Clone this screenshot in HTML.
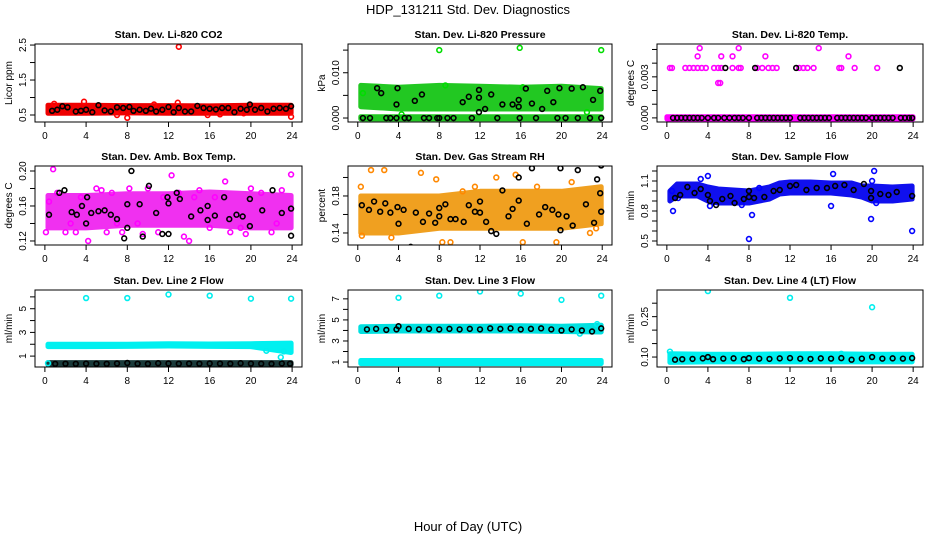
<!DOCTYPE html>
<html><head><meta charset="utf-8"><style>
body{margin:0;background:#fff}
svg{display:block;font-family:"Liberation Sans",sans-serif}
</style></head><body>
<svg id="c" width="936" height="540" xmlns="http://www.w3.org/2000/svg">
<text x="468" y="14" text-anchor="middle" font-size="13">HDP_131211  Std. Dev. Diagnostics</text>
<text x="468" y="531" text-anchor="middle" font-size="13">Hour of Day (UTC)</text>
</svg>
<script>
const BH=[0.3,4,8,12,16,20,23.9];
const XTICKS=[0,4,8,12,16,20,24];
// P1 CO2
const p1Lo=[0.55,0.55,0.56,0.55,0.55,0.55,0.55], p1Hi=[0.78,0.78,0.77,0.77,0.76,0.78,0.78];
const p1cH=[13,8,23.9,3.8,0.9,12.9,15.8,17,7,10.6,19.3], p1cV=[2.45,0.42,0.45,0.88,0.82,0.85,0.5,0.52,0.5,0.8,0.55];
const p1kH=[0.7,1.2,1.7,2.2,3,3.5,4,4.6,5.2,5.8,6.4,7,7.6,8.2,8.6,9.2,9.8,10.3,10.8,11.4,12,12.5,13,13.6,14.2,14.8,15.4,16,16.6,17.2,17.8,18.4,19,19.6,19.9,20.4,21,21.6,22.2,22.8,23.4,23.9];
const p1kV=[0.62,0.65,0.75,0.72,0.6,0.62,0.65,0.58,0.78,0.63,0.6,0.72,0.7,0.73,0.62,0.65,0.62,0.68,0.6,0.65,0.73,0.58,0.7,0.6,0.6,0.76,0.7,0.68,0.66,0.7,0.7,0.58,0.68,0.65,0.8,0.65,0.7,0.6,0.68,0.7,0.68,0.75];
// P2 Pressure
const p2Lo=[0.0025,0.002,0.002,0.002,0.002,0.002,0.002], p2Hi=[0.0072,0.0068,0.0072,0.0070,0.0068,0.0070,0.0065];
const p2zLo=[-0.0002,-0.0002,-0.0002,-0.0002,-0.0002,-0.0002,-0.0002], p2zHi=[0.0003,0.0003,0.0003,0.0003,0.0003,0.0003,0.0003];
const p2cH=[8,15.9,23.9,8.6,0.5,16.2,22.5,4.3], p2cV=[0.0150,0.0155,0.0150,0.0072,0.0055,0.0068,0.0013,0.0008];
const p2kH=[0.5,1.2,2.8,3.2,3.8,4.6,5,6.5,7,7.8,8,8.8,9.4,11.2,13.7,15.9,17.5,19.6,20.4,21.6,22.8,23.9,1.9,2.3,3.9,3.8,5.6,6.3,10.3,10.9,11.9,11.9,11.9,12.5,13.1,14.2,15.2,15.8,15.8,16.5,17.1,18.1,18.6,19.2,19.8,21,22.1,23.1,23.8];
const p2kV=[0,0,0,0,0,0,0,0,0,0,0,0,0,0,0,0,0,0,0,0,0,0,0.0066,0.0055,0.0066,0.003,0.0038,0.0052,0.0035,0.0047,0.0062,0.0045,0.0013,0.002,0.0052,0.003,0.003,0.0025,0.004,0.0065,0.0032,0.002,0.006,0.0035,0.0066,0.0065,0.0068,0.004,0.006];
// P3 Li-820 Temp
const p3zLo=[-0.00008,-0.00008,-0.00008,-0.00008,-0.00008,-0.00008,-0.00008], p3zHi=[0.00008,0.00008,0.00008,0.00008,0.00008,0.00008,0.00008];
const p3cH=[0.3,0.5,1.8,2.2,2.6,3,3.4,3.8,4.6,5,5.3,6.4,7,7.2,8.8,9.3,9.9,10.3,10.7,12.9,13.3,13.7,14.3,16.8,17,18.3,20.5,3,3.2,5.3,6.4,7,9.6,14.8,17.7,5,5.2];
const p3cV=[0.00365,0.00365,0.00365,0.00365,0.00365,0.00365,0.00365,0.00365,0.00365,0.00365,0.00365,0.00365,0.00365,0.00365,0.00365,0.00365,0.00365,0.00365,0.00365,0.00365,0.00365,0.00365,0.00365,0.00365,0.00365,0.00365,0.00365,0.0045,0.0051,0.0045,0.0045,0.0051,0.0045,0.0051,0.0045,0.00255,0.00255];
const p3kH=[5.7,8.6,12.6,22.7,0.6,1,1.4,1.8,2.2,2.6,3,3.4,4,4.6,5,5.6,6.1,6.6,7,7.4,8,8.8,9.2,9.6,10,10.4,10.8,11.2,11.6,12,13,13.4,13.8,14.2,14.6,15,15.4,15.8,16.6,17,17.4,17.8,18.2,18.6,19,19.4,20,20.4,20.8,21.2,21.6,22,22.8,23.2,23.6,23.9];
const p3kV=[0.00365,0.00365,0.00365,0.00365,0,0,0,0,0,0,0,0,0,0,0,0,0,0,0,0,0,0,0,0,0,0,0,0,0,0,0,0,0,0,0,0,0,0,0,0,0,0,0,0,0,0,0,0,0,0,0,0,0,0,0,0];
// P4 Amb Box Temp
const p4Lo=[0.135,0.135,0.138,0.138,0.138,0.135,0.135], p4Hi=[0.172,0.172,0.174,0.174,0.176,0.174,0.172];
const p4cH=[0.1,0.8,1.2,2,3,3.5,4.2,5,6,6.5,7.5,8.2,9,10,11,12.3,13,14,14.5,15,16.5,17.5,18,19,20,21,22,23,23.9,0.4,2.5,5.5,7,9.5,11.5,13.5,16,19.5,22.5];
const p4cV=[0.13,0.202,0.175,0.13,0.13,0.17,0.12,0.18,0.13,0.175,0.13,0.18,0.14,0.18,0.13,0.195,0.175,0.12,0.17,0.178,0.17,0.188,0.13,0.135,0.18,0.175,0.13,0.178,0.196,0.165,0.14,0.178,0.14,0.128,0.17,0.125,0.135,0.128,0.14];
const p4kH=[0.4,1.4,1.9,2.6,3.1,3.6,4,4.1,4.5,5.2,5.8,6.4,7,7.7,8,8,8.4,9.2,9.5,10.1,10.8,11.4,11.9,12,12,12.8,13.1,14.2,15.1,15.8,15.8,16.5,17.4,17.9,18.6,19.2,19.9,19.9,21.1,22.1,23,23.9,23.9];
const p4kV=[0.15,0.175,0.178,0.153,0.15,0.16,0.14,0.17,0.152,0.154,0.155,0.15,0.145,0.123,0.162,0.135,0.2,0.162,0.125,0.183,0.152,0.128,0.17,0.163,0.128,0.175,0.168,0.148,0.155,0.16,0.144,0.149,0.17,0.145,0.15,0.148,0.168,0.137,0.155,0.178,0.152,0.157,0.126];
// P5 Gas Stream RH
const p5Lo=[0.14,0.14,0.145,0.145,0.145,0.145,0.15], p5Hi=[0.18,0.18,0.18,0.185,0.185,0.185,0.19];
const p5cH=[0.3,1.3,2.6,6.2,7.7,10.3,13.6,15.5,16.2,17.6,5.4,8.3,9.1,19.5,22.8,0.4,23.4,3.3,11.5,21];
const p5cV=[0.19,0.208,0.208,0.205,0.198,0.185,0.2,0.203,0.13,0.19,0.122,0.13,0.13,0.13,0.14,0.137,0.145,0.135,0.19,0.195];
const p5kH=[0.4,1.1,1.6,2.2,2.7,3.2,3.9,4,4.5,5.2,5.7,6.4,7,7.6,8,8,8.6,9.1,9.6,10.4,10.9,11.5,12,12,12.6,13.1,13.6,14.2,14.8,15.2,15.8,15.8,16.6,17.1,17.8,18.4,19.1,19.7,19.9,19.9,20.5,21.1,21.6,22.4,23.2,23.5,23.8,23.9,23.9];
const p5kV=[0.17,0.165,0.174,0.163,0.172,0.162,0.168,0.15,0.165,0.125,0.162,0.152,0.161,0.151,0.167,0.158,0.171,0.155,0.155,0.152,0.17,0.163,0.174,0.162,0.152,0.142,0.139,0.186,0.158,0.166,0.2,0.175,0.15,0.21,0.16,0.168,0.165,0.16,0.21,0.143,0.158,0.148,0.208,0.171,0.151,0.198,0.183,0.213,0.163];
// P6 Sample Flow
const p6H=[0.3,1,3,4,5,8,10,11,12,14,16,18,19,20,22,23.9];
const p6Lo=[0.9,0.95,0.95,0.9,0.88,0.88,0.92,0.97,0.98,0.98,0.98,0.96,0.94,0.9,0.9,0.92];
const p6Hi=[1.0,1.07,1.07,1.04,1.02,1.0,1.04,1.08,1.09,1.09,1.08,1.08,1.05,1.05,1.04,1.05];
const p6cH=[0.6,0.5,4,4.2,8,8.3,16,16.2,19.9,20,20.2,20.4,23.9,1.1,9,3.3,7.3];
const p6cV=[0.8,1.0,1.15,0.85,0.52,0.76,0.85,1.17,0.72,1.1,1.2,0.88,0.6,0.93,1.03,1.12,0.86];
const p6kH=[0.8,1.3,2,2.7,3.3,4,4.2,4.8,5.4,6.2,6.6,7.5,8,8,8.5,9.5,10.4,11,12,12.6,13.6,14.6,15.6,16.4,17.3,18.2,19.2,19.9,19.9,20.8,21.6,22.4,23.9];
const p6kV=[0.93,0.96,1.04,0.98,1.02,0.96,0.9,0.86,0.92,0.95,0.88,0.92,0.94,1.0,0.93,0.94,1.0,1.01,1.05,1.06,1.01,1.03,1.03,1.05,1.06,1.01,1.07,1.0,0.93,0.97,0.96,0.99,0.95];
// P7 Line 2 Flow
const p7Lo=[1.8,1.8,1.82,1.85,1.82,1.8,1.3], p7Hi=[2.0,2.0,2.0,2.05,2.02,2.05,2.1];
const p7bLo=[0.28,0.28,0.28,0.28,0.28,0.28,0.28], p7bHi=[0.45,0.45,0.45,0.45,0.45,0.45,0.45];
const p7cH=[4,8,12,16,20,23.9,22.9,23.2,21.5,0.3], p7cV=[5.9,5.9,6.2,6.1,5.85,5.85,0.9,1.4,1.45,0.4];
const p7kH=[1,2,3,4,5,6,7,8,9,10,11,12,13,14,15,16,17,18,19,20,21,22,23,23.8], p7kV=[0.35,0.36,0.35,0.37,0.36,0.35,0.38,0.42,0.36,0.35,0.4,0.38,0.36,0.37,0.36,0.38,0.37,0.36,0.4,0.37,0.36,0.35,0.38,0.36];
// P8 Line 3 Flow
const p8Lo=[0.85,0.85,0.85,0.85,0.85,0.85,0.85], p8Hi=[1.15,1.15,1.15,1.15,1.15,1.15,1.15];
const p8bLo=[3.9,3.95,3.95,3.95,3.95,3.9,3.85], p8bHi=[4.35,4.4,4.4,4.4,4.45,4.4,4.5];
const p8cH=[4,8,12,16,20,23.9,21.8,23.5], p8cV=[7.1,7.3,7.7,7.5,6.9,7.3,3.7,4.6];
const p8kH=[0.9,1.8,2.8,3.8,4,5,6,7,8,9,10,11,12,13,14,15,16,17,18,19,20,21,22,23,23.9], p8kV=[4.1,4.15,4.05,4.1,4.4,4.15,4.1,4.15,4.1,4.15,4.1,4.15,4.1,4.2,4.15,4.2,4.1,4.15,4.2,4.1,4.0,4.1,4.0,3.9,4.2];
// P9 Line 4 Flow
const p9Lo=[0.08,0.082,0.082,0.082,0.082,0.082,0.082], p9Hi=[0.112,0.11,0.11,0.112,0.112,0.11,0.11];
const p9cH=[4,12,20,0.3,3.9,17], p9cV=[0.345,0.32,0.285,0.12,0.105,0.112];
const p9kH=[0.8,1.5,2.5,3.5,4,4.5,5.5,6.5,7.5,8,9,10,11,12,13,14,15,16,17,18,19,20,21,22,23,23.9], p9kV=[0.09,0.092,0.093,0.095,0.1,0.092,0.094,0.095,0.092,0.096,0.094,0.093,0.095,0.096,0.094,0.093,0.095,0.094,0.096,0.09,0.094,0.1,0.094,0.095,0.094,0.096];

const NS='http://www.w3.org/2000/svg';
const svg=document.getElementById('c');
function mk(tag,attrs,parent){const e=document.createElementNS(NS,tag);for(const k in attrs)e.setAttribute(k,attrs[k]);(parent||svg).appendChild(e);return e;}
const COLX=[[35,302],[348,612],[657,923]];
const ROWY=[[44,122],[166,245],[290,367]];

function panel(col,row,name,title,ylab,yb,yt,yticks,ylabels,color,bands,cH,cV,kH,kV){
  const [x0,x1]=COLX[col],[y0,y1]=ROWY[row];
  const g=mk('g',{});
  
  
  const pad=(x1-x0)/(24*1.08)*0.96;
  const sx=h=>x0+pad+h*(x1-x0-2*pad)/24;
  const sy=v=>y1-(v-yb)*(y1-y0)/(yt-yb);
  const cp='clip'+name;
  const cl=mk('clipPath',{id:cp},g);mk('rect',{x:x0,y:y0,width:x1-x0,height:y1-y0},cl);
  const pg=mk('g',{'clip-path':'url(#'+cp+')'},g);
  bands.forEach(b=>{
    let d='';
    b.h.forEach((h,i)=>{d+=(i?'L':'M')+sx(h).toFixed(1)+','+sy(b.hi[i]).toFixed(1);});
    for(let i=b.h.length-1;i>=0;i--)d+='L'+sx(b.h[i]).toFixed(1)+','+sy(b.lo[i]).toFixed(1);
    const p=mk('path',{d:d+'Z',fill:b.c,stroke:b.c,'stroke-width':5,'stroke-linejoin':'round'},pg);
    
    
  });
  cH.forEach((h,i)=>{const c=mk('circle',{cx:sx(h),cy:sy(cV[i]),r:2.4,fill:'none',stroke:color,'stroke-width':1.6},pg);
    
    });
  kH.forEach((h,i)=>{const c=mk('circle',{cx:sx(h),cy:sy(kV[i]),r:2.4,fill:'none',stroke:'#000','stroke-width':1.6},pg);
    
    });
  const fr=mk('rect',{x:x0,y:y0,width:x1-x0,height:y1-y0,fill:'none',stroke:'#000','stroke-width':1},g);
  
  
  // x axis
  mk('line',{x1:sx(0),x2:sx(24),y1:y1,y2:y1,stroke:'#000'},g);
  XTICKS.forEach(t=>{mk('line',{x1:sx(t),x2:sx(t),y1:y1,y2:y1+5,stroke:'#000'},g);
    const tx=mk('text',{x:sx(t),y:y1+17,'font-size':10,'text-anchor':'middle'},g);tx.textContent=t;
    
    });
  // y axis
  mk('line',{x1:x0,x2:x0,y1:sy(yticks[0]),y2:sy(yticks[yticks.length-1]),stroke:'#000'},g);
  yticks.forEach(t=>mk('line',{x1:x0-5,x2:x0,y1:sy(t),y2:sy(t),stroke:'#000'},g));
  ylabels.forEach(l=>{const y=sy(parseFloat(l));const tx=mk('text',{x:x0-9,y:y,'font-size':10,'text-anchor':'middle',transform:'rotate(-90 '+(x0-9)+' '+y+')'},g);tx.textContent=l;
    
    });
  const yc=(y0+y1)/2;
  const yl=mk('text',{x:x0-23,y:yc,'font-size':10,'text-anchor':'middle',transform:'rotate(-90 '+(x0-23)+' '+yc+')'},g);yl.textContent=ylab;
  
  
  const tt=mk('text',{x:(x0+x1)/2,y:y0-6,'font-size':10.5,'font-weight':'bold','text-anchor':'middle'},g);tt.textContent=title;
  
  
}
const B=(h,lo,hi,c)=>({h,lo,hi,c});
panel(0,0,'panel-co2','Stan. Dev. Li-820 CO2','Licor ppm',0.3,2.53,[0.5,1,1.5,2,2.5],['0.5','1.5','2.5'],'#ff0000',[B(BH,p1Lo,p1Hi,'#ee0000')],p1cH,p1cV,p1kH,p1kV);
panel(1,0,'panel-pressure','Stan. Dev. Li-820 Pressure','kPa',-0.00088,0.01635,[0,0.005,0.01,0.015],['0.000','0.010'],'#00dd00',[B(BH,p2Lo,p2Hi,'#22c822'),B(BH,p2zLo,p2zHi,'#22c822')],p2cH,p2cV,p2kH,p2kV);
panel(2,0,'panel-li820-temp','Stan. Dev. Li-820 Temp.','degrees C',-0.0003,0.0054,[0,0.001,0.002,0.003,0.004,0.005],['0.000','0.003'],'#ff00ff',[B([0,4,8,12,16,20,24],p3zLo,p3zHi,'#ff00ff')],p3cH,p3cV,p3kH,p3kV);
panel(0,1,'panel-amb-box-temp','Stan. Dev. Amb. Box Temp.','degrees C',0.1154,0.2057,[0.12,0.14,0.16,0.18,0.2],['0.12','0.16','0.20'],'#ff00ff',[B(BH,p4Lo,p4Hi,'#f030f0')],p4cH,p4cV,p4kH,p4kV);
panel(1,1,'panel-gas-rh','Stan. Dev. Gas Stream RH','percent',0.127,0.2124,[0.14,0.16,0.18,0.2],['0.14','0.18'],'#ff8800',[B(BH,p5Lo,p5Hi,'#f0a020')],p5cH,p5cV,p5kH,p5kV);
panel(2,1,'panel-sample-flow','Stan. Dev. Sample Flow','ml/min',0.46,1.25,[0.5,0.6,0.7,0.8,0.9,1.0,1.1,1.2],['0.5','0.8','1.1'],'#0000ff',[B(p6H,p6Lo,p6Hi,'#1010ee')],p6cH,p6cV,p6kH,p6kV);
panel(0,2,'panel-line2-flow','Stan. Dev. Line 2 Flow','ml/min',0.08,6.58,[1,2,3,4,5,6],['1','3','5'],'#00eeee',[B(BH,p7Lo,p7Hi,'#00f0f0'),B(BH,p7bLo,p7bHi,'#1a3a3a')],p7cH,p7cV,p7kH,p7kV);
panel(1,2,'panel-line3-flow','Stan. Dev. Line 3 Flow','ml/min',0.53,7.84,[1,2,3,4,5,6,7],['1','3','5','7'],'#00eeee',[B(BH,p8Lo,p8Hi,'#00f0f0'),B(BH,p8bLo,p8bHi,'#00e0e0')],p8cH,p8cV,p8kH,p8kV);
panel(2,2,'panel-line4-flow','Stan. Dev. Line 4 (LT) Flow','ml/min',0.063,0.349,[0.1,0.15,0.2,0.25,0.3],['0.10','0.25'],'#00eeee',[B(BH,p9Lo,p9Hi,'#00f0f0')],p9cH,p9cV,p9kH,p9kV);
</script>
</body></html>
